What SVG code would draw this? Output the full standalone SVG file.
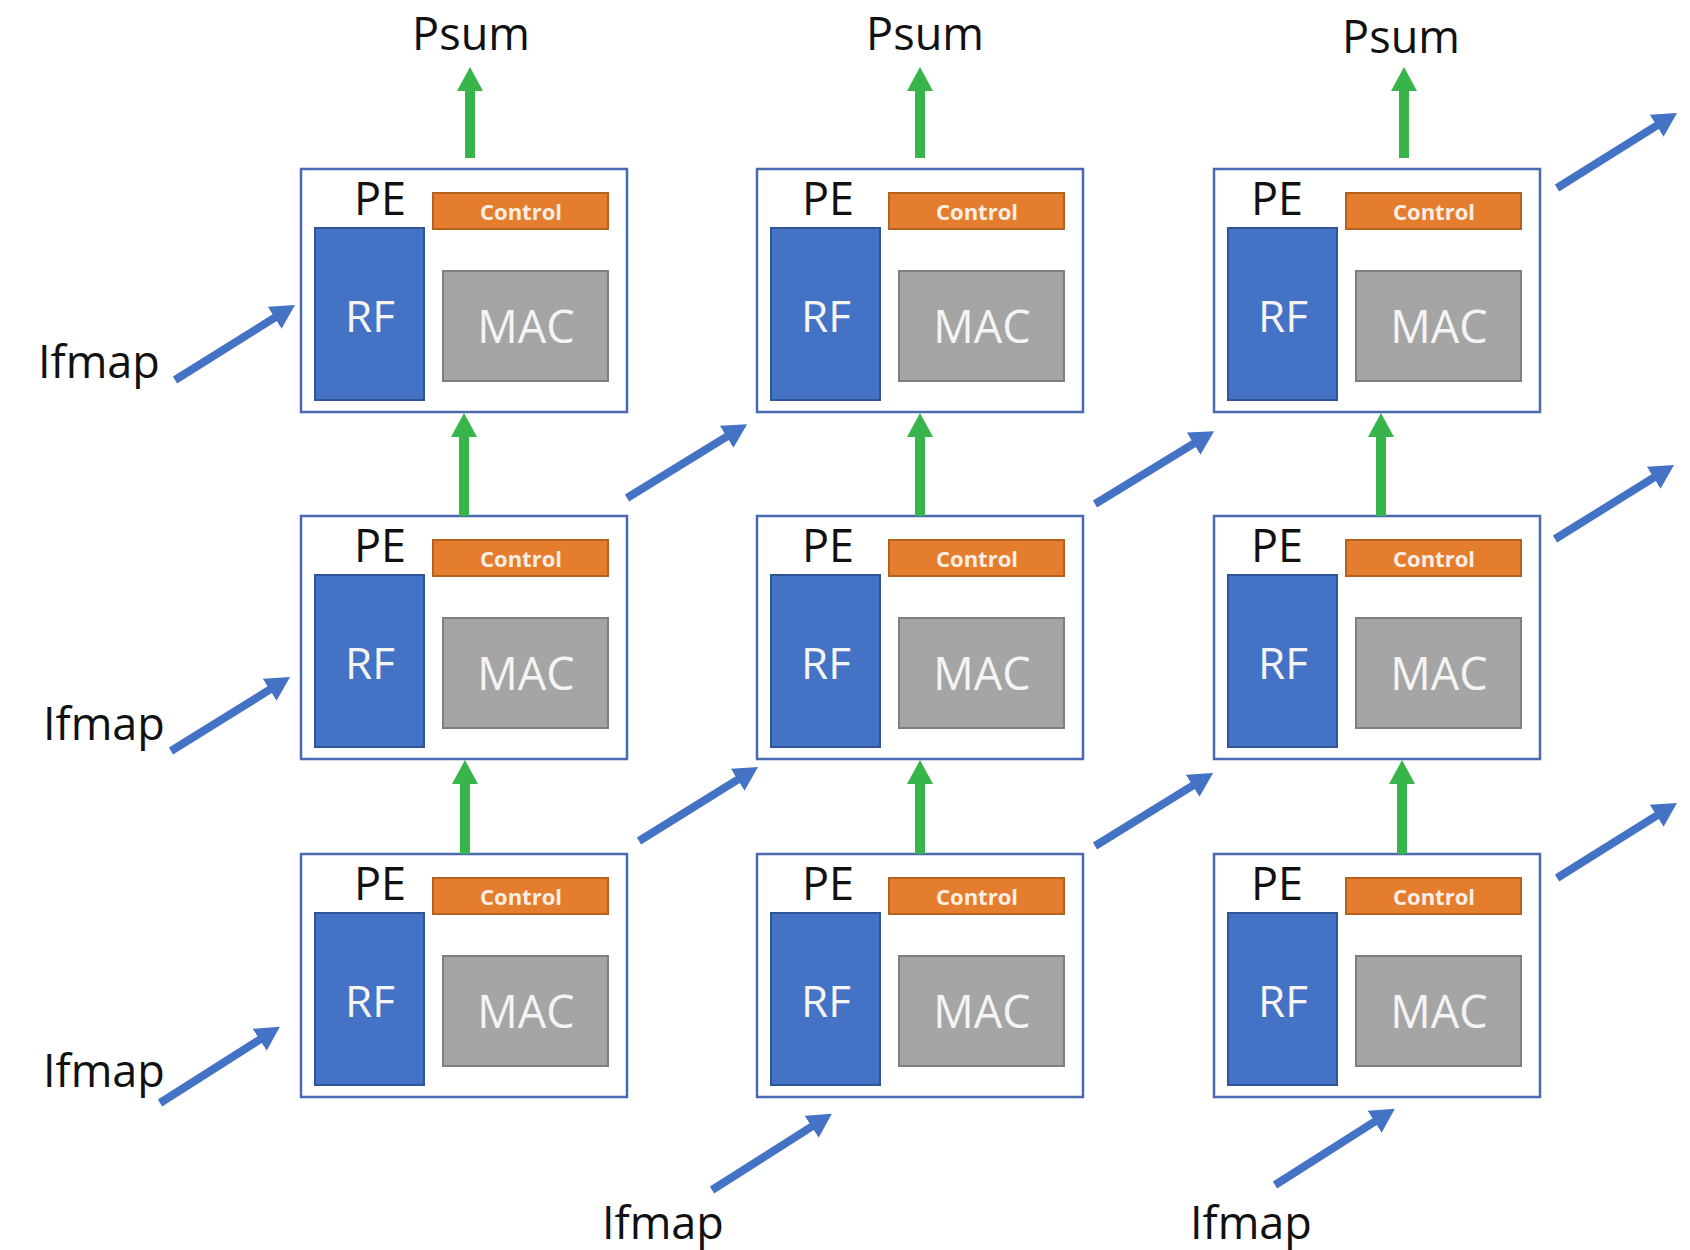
<svg xmlns="http://www.w3.org/2000/svg" width="1690" height="1250" viewBox="0 0 1690 1250">
  <style>
    .pe { fill: #ffffff; stroke: #4a69b0; stroke-width: 2.5; }
    .rf { fill: #4472c4; stroke: #2f5597; stroke-width: 2; }
    .ctl { fill: #e57d2f; stroke: #b5621e; stroke-width: 2; }
    .mac { fill: #a5a5a5; stroke: #7f7f7f; stroke-width: 2; }
    .lbl { font-family: "Open Sans", "Liberation Sans", sans-serif; font-size: 45px; fill: #111111; }
    .pe-t { font-family: "Open Sans", "Liberation Sans", sans-serif; font-size: 45px; fill: #111111; text-anchor: middle; }
    .rf-t { font-family: "Open Sans", "Liberation Sans", sans-serif; font-size: 44px; fill: #f4f4f4; text-anchor: middle; }
    .mac-t { font-family: "Open Sans", "Liberation Sans", sans-serif; font-size: 45px; fill: #f4f4f4; text-anchor: middle; }
    .ctl-t { font-family: "Open Sans", "Liberation Sans", sans-serif; font-size: 22px; font-weight: bold; fill: #fbeee4; text-anchor: middle; }
    .psum { stroke: #38b54a; stroke-width: 10; fill: none; marker-end: url(#headG); }
    .ifm { stroke: #4472c4; stroke-width: 8; fill: none; marker-end: url(#headB); }
  </style>
  <defs>
    <marker id="headG" markerUnits="userSpaceOnUse" markerWidth="26" markerHeight="26" viewBox="0 0 24 26" refX="1" refY="13" orient="auto">
      <path d="M0,0 L24,13 L0,26 z" fill="#38b54a"/>
    </marker>
    <marker id="headB" markerUnits="userSpaceOnUse" markerWidth="24" markerHeight="26" viewBox="0 0 24 26" refX="1" refY="13" orient="auto">
      <path d="M0,0 L24,13 L0,26 z" fill="#4472c4"/>
    </marker>
    <!-- one processing element: outline, register file, control unit, MAC -->
    <g id="peCell">
      <rect class="pe" x="0" y="0" width="326" height="243"/>
      <rect class="rf" x="14" y="59" width="109" height="172"/>
      <rect class="ctl" x="132" y="24" width="175" height="36"/>
      <rect class="mac" x="142" y="102" width="165" height="110"/>
      <text class="rf-t" x="69" y="163">RF</text>
      <text class="mac-t" x="225" y="174">MAC</text>
      <text class="ctl-t" x="220" y="51">Control</text>
    </g>
  </defs>

  <rect width="1690" height="1250" fill="#ffffff"/>

  <!-- PE array, rows top to bottom, columns left to right -->
  <g id="pe-r1c1" transform="translate(301,169)"><use href="#peCell"/><text class="pe-t" x="79" y="46">PE</text></g>
  <g id="pe-r1c2" transform="translate(757,169)"><use href="#peCell"/><text class="pe-t" x="71" y="46">PE</text></g>
  <g id="pe-r1c3" transform="translate(1214,169)"><use href="#peCell"/><text class="pe-t" x="63" y="46">PE</text></g>
  <g id="pe-r2c1" transform="translate(301,516)"><use href="#peCell"/><text class="pe-t" x="79" y="46">PE</text></g>
  <g id="pe-r2c2" transform="translate(757,516)"><use href="#peCell"/><text class="pe-t" x="71" y="46">PE</text></g>
  <g id="pe-r2c3" transform="translate(1214,516)"><use href="#peCell"/><text class="pe-t" x="63" y="46">PE</text></g>
  <g id="pe-r3c1" transform="translate(301,854)"><use href="#peCell"/><text class="pe-t" x="79" y="46">PE</text></g>
  <g id="pe-r3c2" transform="translate(757,854)"><use href="#peCell"/><text class="pe-t" x="71" y="46">PE</text></g>
  <g id="pe-r3c3" transform="translate(1214,854)"><use href="#peCell"/><text class="pe-t" x="63" y="46">PE</text></g>

  <!-- labels -->
  <g id="labels">
    <text class="lbl" x="471" y="50" text-anchor="middle">Psum</text>
    <text class="lbl" x="925" y="50" text-anchor="middle">Psum</text>
    <text class="lbl" x="1401" y="53" text-anchor="middle">Psum</text>
    <text class="lbl" x="38" y="378">Ifmap</text>
    <text class="lbl" x="43" y="740">Ifmap</text>
    <text class="lbl" x="43" y="1087">Ifmap</text>
    <text class="lbl" x="602" y="1239">Ifmap</text>
    <text class="lbl" x="1190" y="1239">Ifmap</text>
  </g>

  <!-- connectors: partial sums travel up the columns, ifmaps travel along the diagonals -->
  <g id="connectors">
    <line class="psum" x1="470" y1="158" x2="470" y2="90"/>
    <line class="psum" x1="920" y1="158" x2="920" y2="90"/>
    <line class="psum" x1="1404" y1="158" x2="1404" y2="90"/>
    <line class="psum" x1="464" y1="516" x2="464" y2="436"/>
    <line class="psum" x1="920" y1="516" x2="920" y2="436"/>
    <line class="psum" x1="1381" y1="516" x2="1381" y2="436"/>
    <line class="psum" x1="465" y1="854" x2="465" y2="783"/>
    <line class="psum" x1="920" y1="854" x2="920" y2="783"/>
    <line class="psum" x1="1402" y1="854" x2="1402" y2="783"/>

    <line class="ifm" x1="175" y1="380" x2="275.5" y2="317.2"/>
    <line class="ifm" x1="171" y1="751" x2="270.5" y2="689.2"/>
    <line class="ifm" x1="160" y1="1103" x2="260.5" y2="1039.2"/>
    <line class="ifm" x1="627" y1="498" x2="727.5" y2="436.2"/>
    <line class="ifm" x1="639" y1="841" x2="738.5" y2="779.2"/>
    <line class="ifm" x1="1095" y1="504" x2="1194.5" y2="443.2"/>
    <line class="ifm" x1="1095" y1="846" x2="1193.5" y2="785.2"/>
    <line class="ifm" x1="1557" y1="188" x2="1657.5" y2="125.2"/>
    <line class="ifm" x1="1555" y1="539" x2="1654.5" y2="477.2"/>
    <line class="ifm" x1="1557" y1="878" x2="1657.5" y2="815.2"/>
    <line class="ifm" x1="712" y1="1190" x2="812.5" y2="1126.2"/>
    <line class="ifm" x1="1275" y1="1185" x2="1375.5" y2="1121.2"/>
  </g>
</svg>
